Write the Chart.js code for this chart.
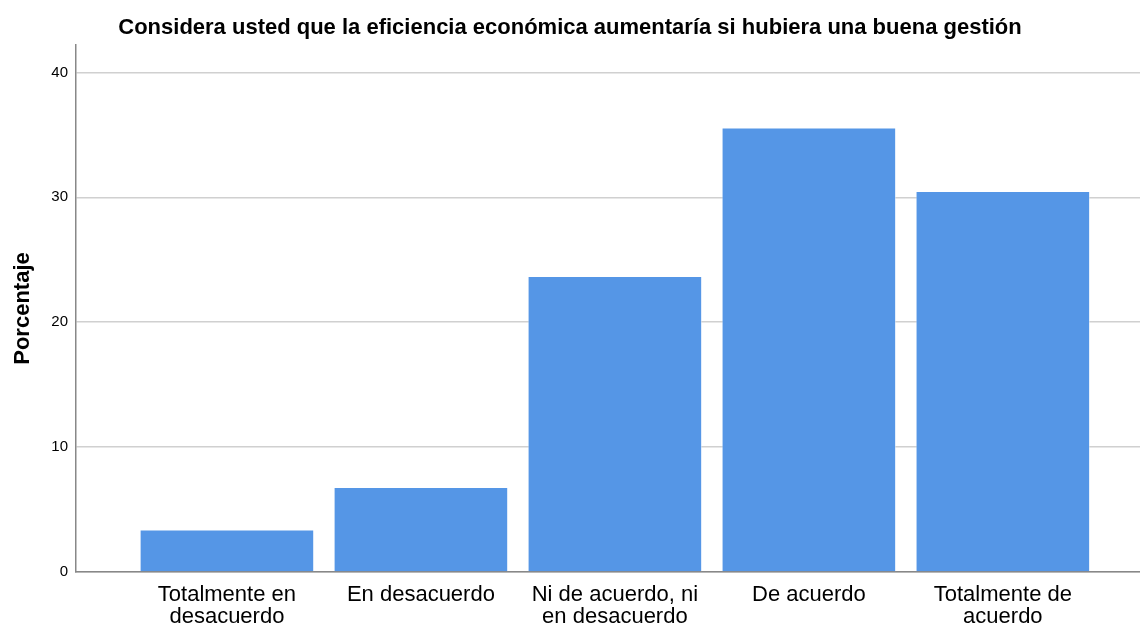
<!DOCTYPE html>
<html>
<head>
<meta charset="utf-8">
<script src="https://cdn.jsdelivr.net/npm/chart.js@4/dist/chart.umd.min.js"></script>
<style>
  html, body { margin: 0; padding: 0; background: #fff; }
  #wrap { width: 1140px; height: 626px; }
</style>
</head>
<body>
<div id="wrap"><canvas id="EficienciaChart"></canvas></div>
<script>
const categories = [
  ['Totalmente en', 'desacuerdo'],
  ['En desacuerdo'],
  ['Ni de acuerdo, ni', 'en desacuerdo'],
  ['De acuerdo'],
  ['Totalmente de', 'acuerdo']
];
const percentages = [3.4, 6.8, 23.7, 35.6, 30.5];
const yTicks = [0, 10, 20, 30, 40];

const ctx = document.getElementById('EficienciaChart');
const font = 'Arial, "Liberation Sans", sans-serif';

new Chart(ctx, {
  type: 'bar',
  data: {
    datasets: [{
      label: 'Porcentaje',
      data: percentages.map((v, i) => ({ x: i + 1, y: v })),
      backgroundColor: '#5596e6',
      borderColor: 'rgba(255,255,255,0.5)',
      borderWidth: 1,
      barPercentage: 0.9,
      categoryPercentage: 1
    }]
  },
  options: {
    responsive: true,
    maintainAspectRatio: false,
    animation: false,
    layout: { padding: 0 },
    plugins: {
      legend: { display: false },
      tooltip: { enabled: false },
      title: {
        display: true,
        text: 'Considera usted que la eficiencia económica aumentaría si hubiera una buena gestión',
        color: '#000',
        font: { family: font, size: 22, weight: 'bold' },
        padding: { top: 15, bottom: 3.6 }
      }
    },
    scales: {
      x: {
        type: 'linear',
        offset: false,
        min: 0.222,
        max: 5.707,
        afterBuildTicks: s => { s.ticks = categories.map((c, i) => ({ value: i + 1 })); },
        afterFit: s => { s.height = 54; },
        ticks: {
          color: '#000',
          font: { family: font, size: 22, lineHeight: 1.0 },
          padding: 12,
          maxRotation: 0,
          autoSkip: false,
          callback: v => categories[v - 1]
        },
        grid: { display: false, drawTicks: false, offset: false },
        border: { color: '#888', width: 1.5 }
      },
      y: {
        min: 0,
        max: 42.2,
        afterBuildTicks: s => { s.ticks = yTicks.map(v => ({ value: v })); },
        afterFit: s => { s.width = 76; },
        ticks: {
          color: '#000',
          font: { family: font, size: 15 },
          padding: 8
        },
        title: {
          display: true,
          text: 'Porcentaje',
          color: '#000',
          font: { family: font, size: 22, weight: 'bold' },
          padding: { top: 10, bottom: 0 }
        },
        grid: { color: '#d0d0d0', lineWidth: 1.5, drawTicks: false },
        border: { color: '#888', width: 1.5 }
      }
    }
  }
});
</script>
</body>
</html>
